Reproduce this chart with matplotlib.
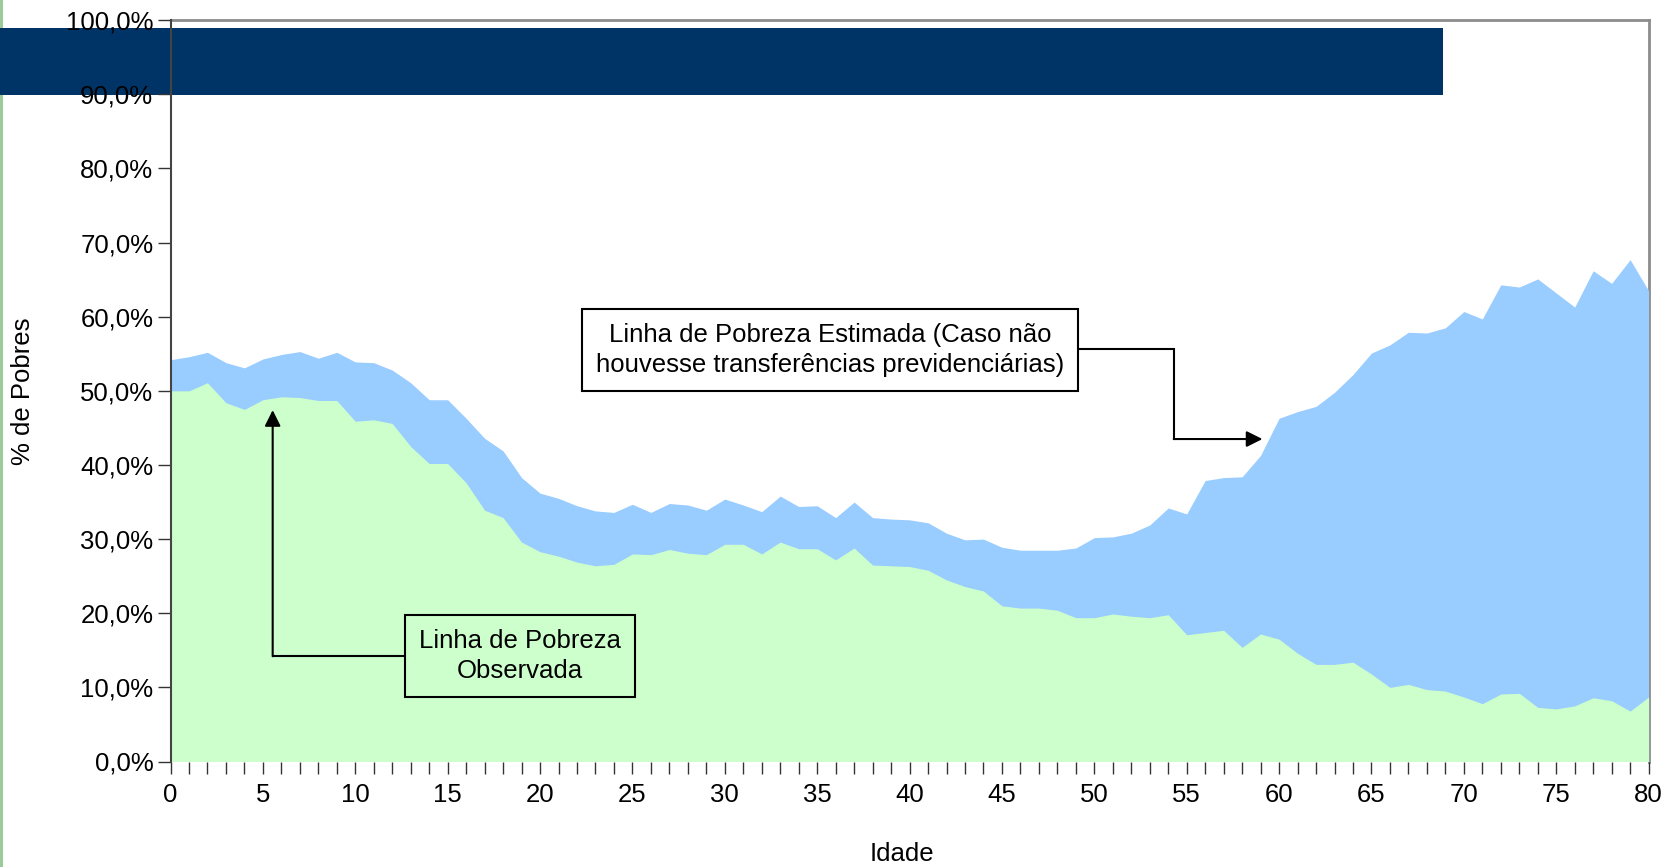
import matplotlib
matplotlib.use("Agg")
import matplotlib.pyplot as plt
import matplotlib.ticker as ticker
from matplotlib.patches import Rectangle
import numpy as np

plt.rcParams['font.family'] = ['Liberation Sans', 'DejaVu Sans']
plt.rcParams['font.size'] = 18.5

# Idade (anos)
idades = np.arange(0, 81)

# % de pobres caso nao houvesse transferencias previdenciarias
estimada = [54.2, 54.6, 55.2, 53.8, 53.1, 54.3, 54.9, 55.3, 54.4, 55.2,
            53.9, 53.8, 52.8, 51.1, 48.8, 48.8, 46.3, 43.6, 41.9, 38.3,
            36.2, 35.5, 34.5, 33.8, 33.6, 34.7, 33.6, 34.8, 34.6, 33.9,
            35.4, 34.6, 33.7, 35.8, 34.4, 34.5, 32.9, 35.0, 32.9, 32.7,
            32.6, 32.2, 30.8, 29.9, 30.0, 28.9, 28.5, 28.5, 28.5, 28.8,
            30.2, 30.3, 30.8, 31.9, 34.2, 33.4, 37.9, 38.3, 38.4, 41.3,
            46.3, 47.2, 47.9, 49.8, 52.2, 55.1, 56.2, 57.9, 57.8, 58.5,
            60.7, 59.7, 64.3, 64.0, 65.1, 63.2, 61.3, 66.2, 64.5, 67.7,
            63.5]

# % de pobres observada
observada = [50.0, 50.0, 51.1, 48.4, 47.5, 48.8, 49.2, 49.1, 48.7, 48.7,
             45.9, 46.1, 45.6, 42.5, 40.2, 40.2, 37.6, 33.9, 32.9, 29.6,
             28.3, 27.7, 26.9, 26.4, 26.6, 28.0, 27.9, 28.6, 28.1, 27.9,
             29.3, 29.3, 28.0, 29.6, 28.7, 28.7, 27.2, 28.8, 26.5, 26.4,
             26.3, 25.8, 24.5, 23.6, 23.0, 21.0, 20.7, 20.7, 20.4, 19.4,
             19.4, 19.9, 19.6, 19.4, 19.8, 17.1, 17.4, 17.7, 15.4, 17.2,
             16.5, 14.6, 13.1, 13.1, 13.4, 11.8, 10.0, 10.4, 9.7, 9.5,
             8.7, 7.8, 9.1, 9.2, 7.3, 7.1, 7.5, 8.6, 8.2, 6.8,
             8.7]

texto_estimada = "Linha de Pobreza Estimada (Caso não\nhouvesse transferências previdenciárias)"
texto_observada = "Linha de Pobreza\nObservada"

W, H = 1670, 867
fig = plt.figure(figsize=(W / 100, H / 100), dpi=100)

# slide decorations behind the chart
fig.patches.append(Rectangle((0, 0), 3 / W, 1, transform=fig.transFigure,
                             fc='#99CC99', ec='none', zorder=-2))
fig.patches.append(Rectangle((0, 1 - 94.5 / H), 1443 / W, 66 / H, transform=fig.transFigure,
                             fc='#003366', ec='none', zorder=-1))

ax = fig.add_axes([170.5 / W, 1 - 761.5 / H, 1478.1 / W, 741.3 / H])
ax.set_facecolor('none')

ax.fill_between(idades, 0, estimada, color='#99CCFF', lw=0, zorder=2)
ax.fill_between(idades, 0, observada, color='#CCFFCC', lw=0, zorder=2.1)

ax.set_xlim(0, 80)
ax.set_ylim(0, 100)

ax.xaxis.set_major_locator(ticker.MultipleLocator(5))
ax.xaxis.set_minor_locator(ticker.MultipleLocator(1))
ax.yaxis.set_major_locator(ticker.MultipleLocator(10))
ax.yaxis.set_major_formatter(ticker.FuncFormatter(lambda v, p: f"{v:.1f}%".replace('.', ',')))

ax.tick_params(axis='x', which='both', direction='out', length=8.6, width=1, color='#333333', pad=7)
ax.tick_params(axis='y', direction='out', length=9.4, width=1, color='#333333', pad=3)

ax.spines['bottom'].set_visible(False)
ax.spines['left'].set_color('#444444')
ax.spines['left'].set_linewidth(1.5)
ax.spines['left'].set_zorder(3)
for s in ['top', 'right']:
    ax.spines[s].set_color('#8c8c8c')
    ax.spines[s].set_linewidth(2)
    ax.spines[s].set_zorder(1)

ax.set_xlabel('Idade', va='center')
ax.xaxis.set_label_coords(0.495, -(854 - 761.5) / 741.3)
ax.set_ylabel('% de Pobres', va='center')
ax.yaxis.set_label_coords(-(170.5 - 23.4) / 1478.1, 0.5)

seta = dict(arrowstyle='-|>', mutation_scale=24, color='black', lw=1.5, shrinkA=0, shrinkB=0)

# annotation: estimated line
ax.plot([35.7, 54.3, 54.3], [55.6, 55.6, 43.5], color='black', lw=1.5, zorder=4,
        solid_joinstyle='miter')
ax.annotate('', xy=(59.1, 43.5), xytext=(54.3, 43.5), arrowprops=seta, zorder=4)
ax.text(35.7, 55.5, texto_estimada, ha='center', va='center', linespacing=1.3, zorder=5,
        bbox=dict(boxstyle='square,pad=0.55', fc='white', ec='black', lw=1.5))

# annotation: observed line
ax.plot([18.9, 5.53], [14.2, 14.2], color='black', lw=1.5, zorder=4)
ax.annotate('', xy=(5.53, 47.4), xytext=(5.53, 14.2), arrowprops=seta, zorder=4)
ax.text(18.9, 14.2, texto_observada, ha='center', va='center', linespacing=1.3, zorder=5,
        bbox=dict(boxstyle='square,pad=0.55', fc='#CCFFCC', ec='black', lw=1.5))

fig.savefig('out.png', dpi=100)
